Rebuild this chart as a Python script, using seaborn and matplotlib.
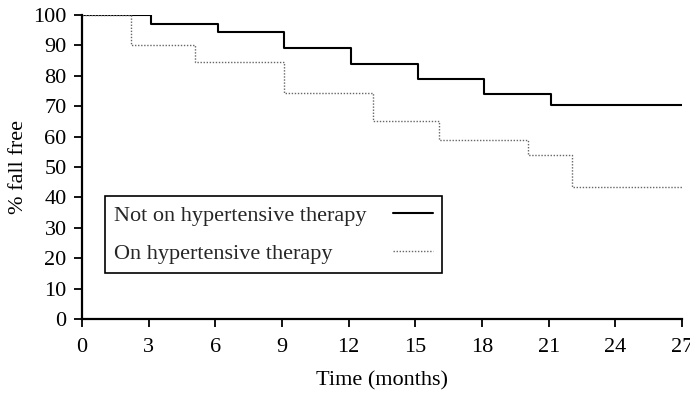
import matplotlib
matplotlib.use("Agg")
import matplotlib.pyplot as plt
import seaborn as sns
import pandas as pd

# Step curve data (time in months, % fall free)
not_on_time = [0, 3.1, 6.1, 9.1, 12.1, 15.1, 18.1, 21.1, 27]
not_on_pct = [100, 97, 94.5, 89, 84, 79, 74, 70.5, 70.5]
on_time = [0, 2.2, 5.1, 9.1, 13.1, 16.05, 20.05, 22.05, 27]
on_pct = [100, 90, 84.5, 74.5, 65, 59, 54, 43.5, 43.5]
labels = ["Not on hypertensive therapy", "On hypertensive therapy"]
x_ticks = [0, 3, 6, 9, 12, 15, 18, 21, 24, 27]
y_ticks = [0, 10, 20, 30, 40, 50, 60, 70, 80, 90, 100]

FS = 16

sns.set_theme(style="ticks")
plt.rcParams['font.family'] = ['Liberation Serif', 'DejaVu Serif']
plt.rcParams['font.size'] = FS

df1 = pd.DataFrame({"t": not_on_time, "p": not_on_pct})
df2 = pd.DataFrame({"t": on_time, "p": on_pct})

fig = plt.figure(figsize=(6.9, 3.94), dpi=100)
ax = fig.add_axes([82/690, 75/394, 600/690, 304/394])

sns.lineplot(data=df1, x="t", y="p", ax=ax, drawstyle="steps-post",
             color="black", linewidth=1.5, label=labels[0], estimator=None)
sns.lineplot(data=df2, x="t", y="p", ax=ax, drawstyle="steps-post",
             color="#666666", linewidth=1.0, linestyle=(0, (1, 1.2)),
             label=labels[1], estimator=None)

ax.set_xlim(0, 27)
ax.set_ylim(0, 100)
ax.set_xticks(x_ticks)
ax.set_yticks(y_ticks)
ax.tick_params(axis="both", direction="out", length=6, width=1.3,
               color="black", labelsize=FS, labelcolor="black")
ax.tick_params(axis="x", pad=8)
ax.tick_params(axis="y", pad=5)
for s in ["top", "right"]:
    ax.spines[s].set_visible(False)
for s in ["left", "bottom"]:
    ax.spines[s].set_color("black")
    ax.spines[s].set_linewidth(1.6)

ax.set_xlabel("Time (months)", fontsize=FS, color="black", labelpad=10)
ax.set_ylabel("% fall free", fontsize=FS, color="black", labelpad=4)

leg = ax.legend(loc="lower left", bbox_to_anchor=(0.038, 0.151),
                borderaxespad=0, markerfirst=False, frameon=True,
                fancybox=False, edgecolor="black", framealpha=1,
                fontsize=FS, handlelength=1.8, handletextpad=1.2,
                labelspacing=0.8, borderpad=0.4)
leg.get_frame().set_linewidth(1.2)

# left-align the label texts while keeping the handles aligned on the right
fig.canvas.draw()
texts = leg.get_texts()
exts = [t.get_window_extent() for t in texts]
left = min(e.x0 for e in exts)
for t, e in zip(texts, exts):
    dx = e.x0 - left
    if dx > 0.5:
        t.set_x(t.get_position()[0] - dx)

fig.savefig("out.png", dpi=100)
